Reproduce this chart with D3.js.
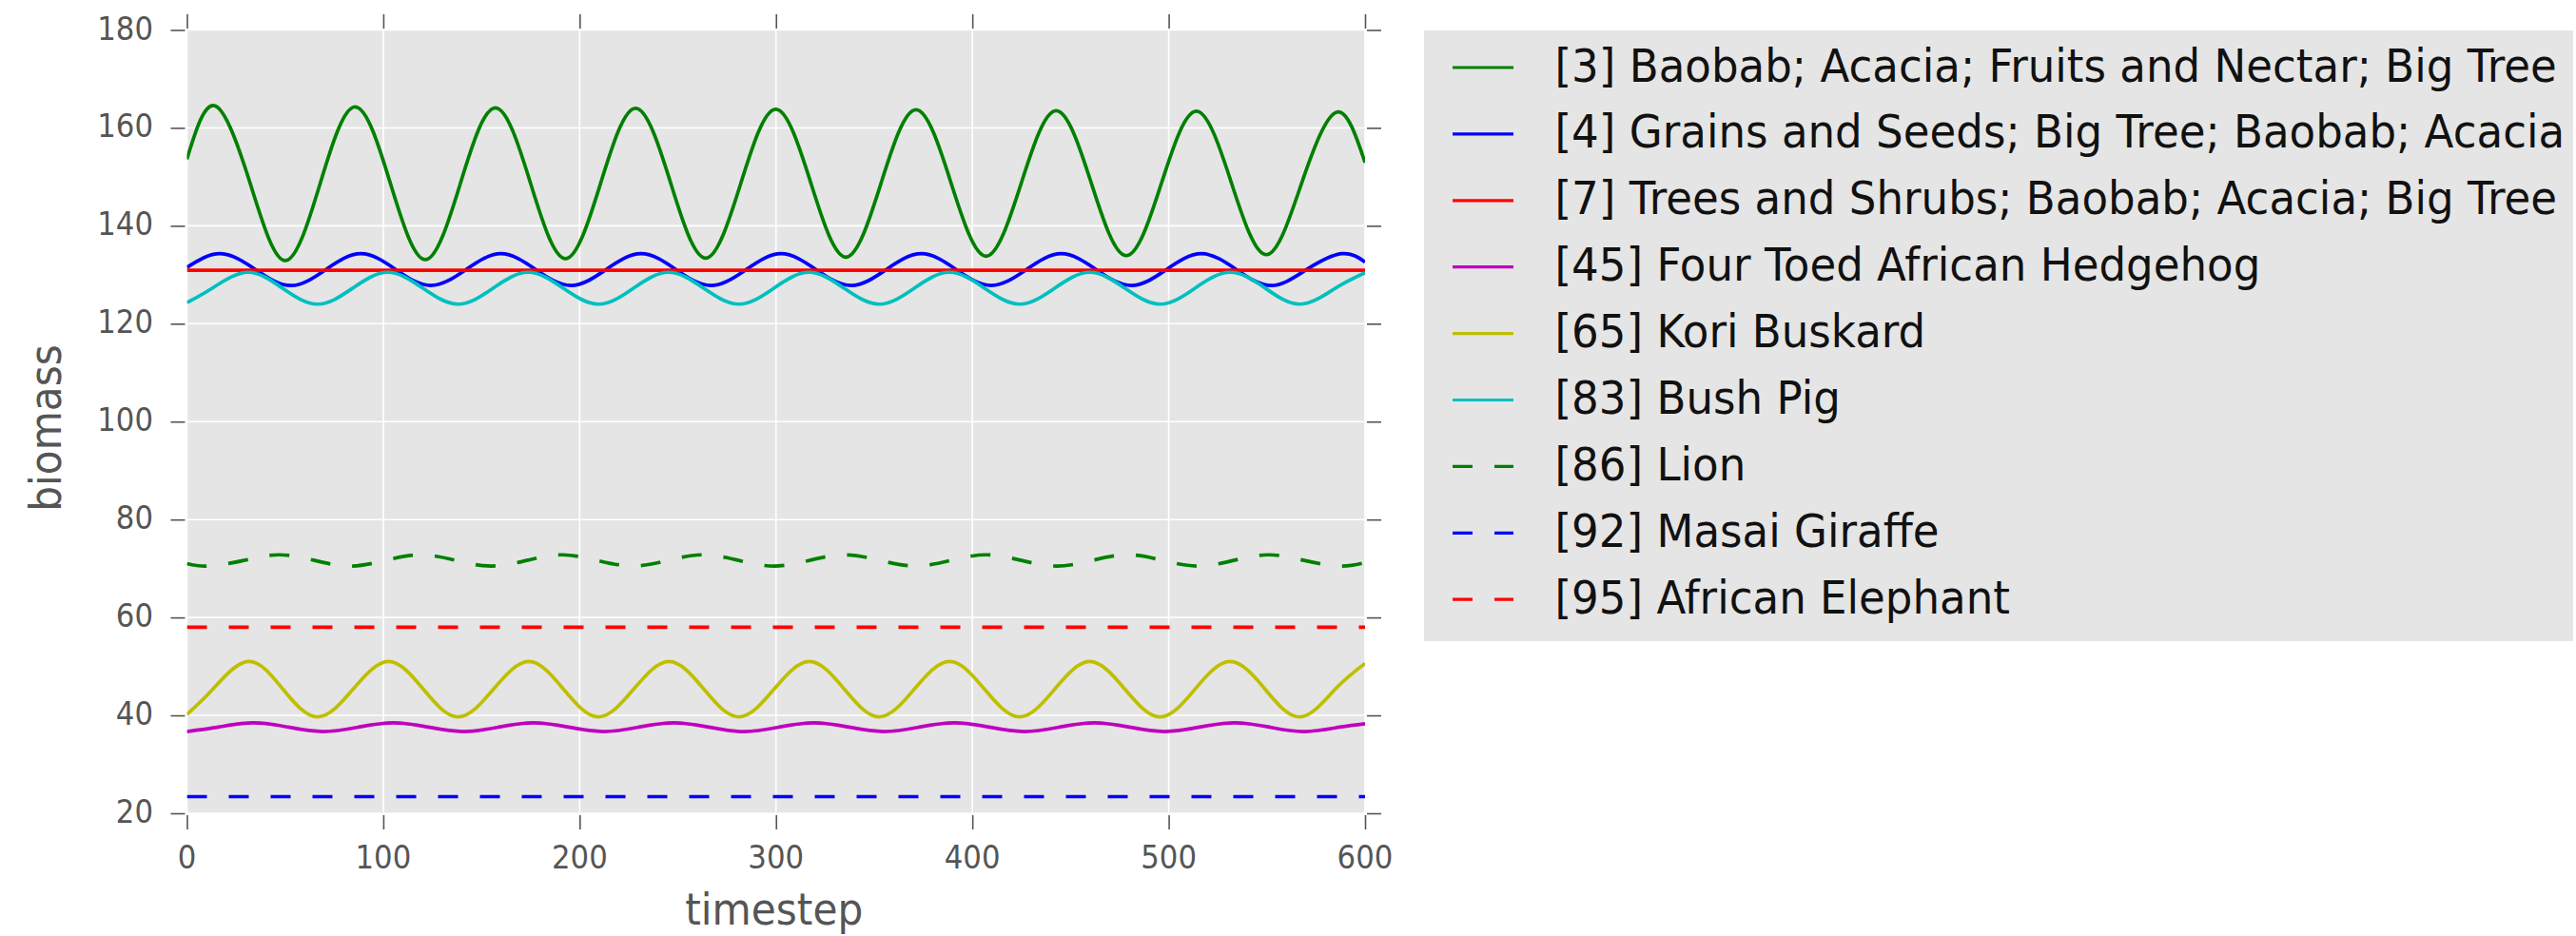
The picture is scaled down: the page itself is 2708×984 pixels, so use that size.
<!DOCTYPE html>
<html>
<head>
<meta charset="utf-8">
<script src="https://cdn.jsdelivr.net/npm/d3@7"></script>
<style>
  html, body { margin: 0; padding: 0; background: #ffffff; }
  svg { display: block; }
  text { font-family: "DejaVu Sans", sans-serif; }
</style>
</head>
<body>
<svg id="chart" width="2708" height="984"></svg>
<script>
// ---- data: biomass per species over simulation timesteps ----
const xTicks = [0, 100, 200, 300, 400, 500, 600];
const yTicks = [20, 40, 60, 80, 100, 120, 140, 160, 180];

const speciesLabels = [
  "[3] Baobab; Acacia; Fruits and Nectar; Big Tree",
  "[4] Grains and Seeds; Big Tree; Baobab; Acacia",
  "[7] Trees and Shrubs; Baobab; Acacia; Big Tree",
  "[45] Four Toed African Hedgehog",
  "[65] Kori Buskard",
  "[83] Bush Pig",
  "[86] Lion",
  "[92] Masai Giraffe",
  "[95] African Elephant"
];

// [3] Baobab; Acacia; Fruits and Nectar; Big Tree
const baobabT = [0, 14.3, 32.2, 50.0, 67.9, 85.7, 103.6, 121.4, 139.3, 157.1, 175.0, 192.8, 210.7, 228.5, 246.4, 264.2, 282.1, 299.9, 317.8, 335.6, 353.5, 371.3, 389.2, 407.0, 424.9, 442.7, 460.6, 478.4, 496.3, 514.1, 532.0, 549.8, 567.7, 585.5, 600];
const baobabV = [153.6, 164.5, 148.7, 132.9, 148.7, 164.3, 148.7, 133.1, 148.7, 164.1, 148.7, 133.3, 148.7, 164.0, 148.7, 133.4, 148.7, 163.8, 148.7, 133.6, 148.7, 163.7, 148.7, 133.8, 148.7, 163.5, 148.7, 133.9, 148.7, 163.4, 148.7, 134.1, 148.7, 163.2, 152.9];

// [4] Grains and Seeds; Big Tree; Baobab; Acacia
const grainsT = [0, 17.2, 35.0, 52.9, 70.7, 88.6, 106.4, 124.2, 142.1, 159.9, 177.7, 195.6, 213.4, 231.3, 249.1, 266.9, 284.8, 302.6, 320.4, 338.3, 356.1, 374.0, 391.8, 409.6, 427.5, 445.3, 463.1, 481.0, 498.8, 516.7, 534.5, 552.3, 570.2, 588.0, 600];
const grainsV = [131.5, 134.3, 131.05, 127.8, 131.05, 134.3, 131.05, 127.8, 131.05, 134.3, 131.05, 127.8, 131.05, 134.3, 131.05, 127.8, 131.05, 134.3, 131.05, 127.8, 131.05, 134.3, 131.05, 127.8, 131.05, 134.3, 131.05, 127.8, 131.05, 134.3, 131.05, 127.8, 131.05, 134.3, 132.6];

// [7] Trees and Shrubs; Baobab; Acacia; Big Tree
const shrubsT = [0, 600];
const shrubsV = [130.9, 130.9];

// [45] Four Toed African Hedgehog
const hedgehogT = [0, 15.9, 33.8, 51.6, 69.5, 87.3, 105.2, 123.0, 140.9, 158.7, 176.6, 194.4, 212.3, 230.1, 248.0, 265.8, 283.7, 301.5, 319.4, 337.2, 355.1, 372.9, 390.8, 408.6, 426.5, 444.3, 462.2, 480.0, 497.9, 515.7, 533.5, 551.4, 569.2, 587.1, 600];
const hedgehogV = [36.7, 37.6, 38.5, 37.6, 36.7, 37.6, 38.5, 37.6, 36.7, 37.6, 38.5, 37.6, 36.7, 37.6, 38.5, 37.6, 36.7, 37.6, 38.5, 37.6, 36.7, 37.6, 38.5, 37.6, 36.7, 37.6, 38.5, 37.6, 36.7, 37.6, 38.5, 37.6, 36.7, 37.6, 38.3];

// [65] Kori Buskard
const buskardT = [0, 13.2, 31.3, 48.9, 66.6, 84.6, 102.7, 120.4, 138.1, 156.1, 174.1, 191.8, 209.6, 227.5, 245.5, 263.3, 281.1, 299.0, 317.0, 334.8, 352.6, 370.4, 388.4, 406.2, 424.1, 441.9, 459.8, 477.7, 495.6, 513.4, 531.2, 549.1, 567.0, 584.8, 600];
const buskardV = [40.2, 45.35, 51.0, 45.35, 39.7, 45.35, 51.0, 45.35, 39.7, 45.35, 51.0, 45.35, 39.7, 45.35, 51.0, 45.35, 39.7, 45.35, 51.0, 45.35, 39.7, 45.35, 51.0, 45.35, 39.7, 45.35, 51.0, 45.35, 39.7, 45.35, 51.0, 45.35, 39.7, 45.35, 50.6];

// [83] Bush Pig
const bushPigT = [0, 12.9, 30.8, 48.7, 66.6, 84.4, 102.3, 120.2, 138.1, 155.9, 173.8, 191.7, 209.6, 227.4, 245.3, 263.2, 281.1, 298.9, 316.8, 334.7, 352.6, 370.4, 388.3, 406.2, 424.1, 441.9, 459.8, 477.7, 495.6, 513.4, 531.3, 549.2, 567.1, 584.9, 600];
const bushPigV = [124.3, 127.25, 130.5, 127.25, 124.0, 127.25, 130.5, 127.25, 124.0, 127.25, 130.5, 127.25, 124.0, 127.25, 130.5, 127.25, 124.0, 127.25, 130.5, 127.25, 124.0, 127.25, 130.5, 127.25, 124.0, 127.25, 130.5, 127.25, 124.0, 127.25, 130.5, 127.25, 124.0, 127.25, 130.4];

// [86] Lion
const lionT = [0, 11, 29, 47, 65, 83, 101, 119, 137, 155, 173, 191, 209, 227, 245, 263, 281, 299, 317, 335, 353, 371, 389, 407, 425, 443, 461, 479, 497, 515, 533, 551, 569, 587, 600];
const lionV = [71.0, 70.5, 71.65, 72.8, 71.65, 70.5, 71.65, 72.8, 71.65, 70.5, 71.65, 72.8, 71.65, 70.5, 71.65, 72.8, 71.65, 70.5, 71.65, 72.8, 71.65, 70.5, 71.65, 72.8, 71.65, 70.5, 71.65, 72.8, 71.65, 70.5, 71.65, 72.8, 71.65, 70.5, 71.2];

// [92] Masai Giraffe
const giraffeT = [0, 600];
const giraffeV = [23.4, 23.4];

// [95] African Elephant
const elephantT = [0, 600];
const elephantV = [58.0, 58.0];

const seriesColors = ["#008000", "#0000ff", "#ff0000", "#bf00bf", "#bfbf00", "#00bfbf", "#008000", "#0000ff", "#ff0000"];
const seriesDashed = [false, false, false, false, false, false, true, true, true];
const seriesTimes = [baobabT, grainsT, shrubsT, hedgehogT, buskardT, bushPigT, lionT, giraffeT, elephantT];
const seriesValues = [baobabV, grainsV, shrubsV, hedgehogV, buskardV, bushPigV, lionV, giraffeV, elephantV];

const series = speciesLabels.map((label, i) => ({
  label,
  color: seriesColors[i],
  dashed: seriesDashed[i],
  points: seriesTimes[i].map((t, j) => ({ t, v: seriesValues[i][j] }))
}));

// ---- layout ----
const plot = { left: 196.5, right: 1435, top: 31.5, bottom: 855 };
const DASH = "21,23";
const LINE_W = 3.7;

const svg = d3.select("#chart");

const x = d3.scaleLinear().domain([0, 600]).range([plot.left, plot.right]);
const y = d3.scaleLinear().domain([20, 180]).range([plot.bottom, plot.top]);

// plot background
svg.append("rect")
  .attr("x", plot.left).attr("y", plot.top)
  .attr("width", plot.right - plot.left).attr("height", plot.bottom - plot.top)
  .attr("fill", "#e5e5e5");

// grid
const grid = svg.append("g").attr("stroke", "#ffffff").attr("stroke-width", 1.6);
grid.selectAll("line.gx").data(xTicks).join("line")
  .attr("x1", d => x(d)).attr("x2", d => x(d))
  .attr("y1", plot.top).attr("y2", plot.bottom);
grid.selectAll("line.gy").data(yTicks).join("line")
  .attr("x1", plot.left).attr("x2", plot.right)
  .attr("y1", d => y(d)).attr("y2", d => y(d));

// tick marks on all four sides, pointing outward
function styleTicks(g) {
  g.select(".domain").remove();
  g.selectAll(".tick line").attr("stroke", "#555555").attr("stroke-width", 1.6);
}
svg.append("g").attr("transform", `translate(0,${plot.bottom + 2})`)
  .call(d3.axisBottom(x).tickValues(xTicks).tickSize(15).tickFormat("")).call(styleTicks);
svg.append("g").attr("transform", `translate(0,${plot.top - 1.5})`)
  .call(d3.axisTop(x).tickValues(xTicks).tickSize(15).tickFormat("")).call(styleTicks);
svg.append("g").attr("transform", `translate(${plot.left - 2},0)`)
  .call(d3.axisLeft(y).tickValues(yTicks).tickSize(15).tickFormat("")).call(styleTicks);
svg.append("g").attr("transform", `translate(${plot.right + 2},0)`)
  .call(d3.axisRight(y).tickValues(yTicks).tickSize(15).tickFormat("")).call(styleTicks);

// text helper: horizontally compressed DejaVu Sans glyphs
function addText(parent, tx, ty, str, size, color, anchor, sx, rotate) {
  return parent.append("text")
    .attr("transform", `translate(${tx},${ty})${rotate ? " rotate(" + rotate + ")" : ""} scale(${sx},1)`)
    .attr("text-anchor", anchor)
    .attr("font-size", size)
    .attr("fill", color)
    .text(str);
}

// tick labels
const tickLabels = svg.append("g");
yTicks.forEach(v => addText(tickLabels, 161, y(v) + 10, String(v), 33.5, "#555555", "end", 0.92));
xTicks.forEach(v => addText(tickLabels, x(v), 913, String(v), 33.5, "#555555", "middle", 0.92));

// axis titles
addText(svg, (plot.left + plot.right) / 2 - 2, 972, "timestep", 46, "#555555", "middle", 0.92);
addText(svg, 64, 450, "biomass", 46, "#555555", "middle", 0.92, -90);

// series lines
svg.append("clipPath").attr("id", "plot-clip").append("rect")
  .attr("x", plot.left).attr("y", plot.top - 4)
  .attr("width", plot.right - plot.left).attr("height", plot.bottom - plot.top + 8);

const line = d3.line()
  .x(d => x(d.t))
  .y(d => y(d.v))
  .curve(d3.curveNatural);

svg.append("g").attr("clip-path", "url(#plot-clip)")
  .selectAll("path").data(series).join("path")
  .attr("d", d => line(d.points))
  .attr("fill", "none")
  .attr("stroke", d => d.color)
  .attr("stroke-width", LINE_W)
  .attr("stroke-dasharray", d => d.dashed ? DASH : null)
  .attr("stroke-linejoin", "round");

// legend
const legend = { left: 1497, right: 2705, top: 32, bottom: 674, firstRow: 71, rowStep: 69.9 };
svg.append("rect")
  .attr("x", legend.left).attr("y", legend.top)
  .attr("width", legend.right - legend.left).attr("height", legend.bottom - legend.top)
  .attr("fill", "#e5e5e5");

const items = svg.append("g").selectAll("g").data(series).join("g")
  .attr("transform", (d, i) => `translate(0,${legend.firstRow + i * legend.rowStep})`);
items.append("line")
  .attr("x1", 1527).attr("x2", 1591).attr("y1", 0).attr("y2", 0)
  .attr("stroke", d => d.color)
  .attr("stroke-width", 3.2)
  .attr("stroke-dasharray", d => d.dashed ? DASH : null);
items.each(function (d) {
  addText(d3.select(this), 1634.5, 14.5, d.label, 48, "#111111", "start", 0.94);
});
</script>
</body>
</html>
